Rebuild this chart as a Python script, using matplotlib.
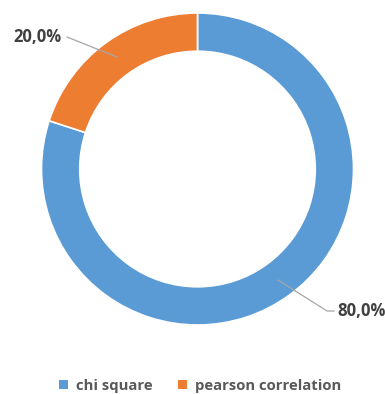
import matplotlib.pyplot as plt
from matplotlib.patches import Patch

labels = ["chi square", "pearson correlation"]
values = [80.0, 20.0]
colors = ["#5B9BD5", "#ED7D31"]

W, H = 385, 394
fig = plt.figure(figsize=(W / 100, H / 100), dpi=100)
cx, cy, r = 197.5, 169, 156
ax = fig.add_axes([(cx - r) / W, (H - cy - r) / H, 2 * r / W, 2 * r / H])

wedges, _ = ax.pie(values, colors=colors, startangle=90, counterclock=False,
                   radius=1.0, wedgeprops=dict(width=0.245, edgecolor="white", linewidth=1.2))
ax.set_xlim(-1, 1)
ax.set_ylim(-1, 1)
ax.set_aspect("equal")
ax.axis("off")


def px(x, y):
    # pixel position -> data coords of the pie axes
    return ((x - cx) / r, (cy - y) / r)


txt = dict(fontsize=12, fontweight="bold", color="#404040", family="Open Sans")
lc = "#A6A6A6"

# 20% label
x0, y0 = px(117, 57)
x1, y1 = px(67, 37)
ax.plot([x0, x1], [y0, y1], color=lc, lw=0.9, clip_on=False)
ax.text(*px(62, 37), f"{values[1]:.1f}%".replace(".", ","), ha="right", va="center", **txt)

# 80% label
x0, y0 = px(278, 280)
x1, y1 = px(327, 311)
x2, y2 = px(334, 311)
ax.plot([x0, x1, x2], [y0, y1, y2], color=lc, lw=0.9, clip_on=False)
ax.text(*px(337, 311), f"{values[0]:.1f}%".replace(".", ","), ha="left", va="center", **txt)

handles = [Patch(facecolor=c, edgecolor="none") for c in colors]
fig.legend(handles, labels, loc="center", bbox_to_anchor=(200 / W, 1 - 386 / H), ncol=2,
           frameon=False, handlelength=0.6, handleheight=0.6, handletextpad=0.55,
           columnspacing=1.7, borderpad=0, prop=dict(family="Open Sans", weight="bold", size=10.7),
           labelcolor="#595959")

fig.savefig("out.png", dpi=100)
